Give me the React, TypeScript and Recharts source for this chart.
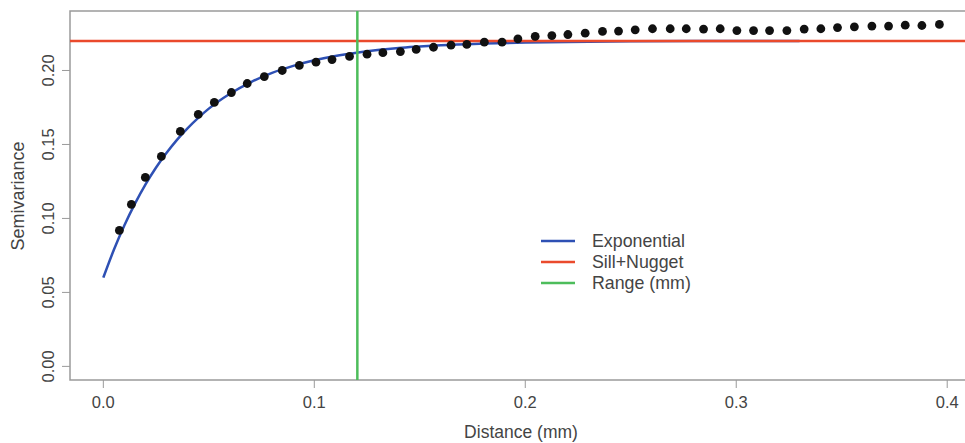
import React from 'react';
import {
  ComposedChart,
  Scatter,
  Line,
  XAxis,
  YAxis,
  ReferenceLine,
  ReferenceArea,
  Customized,
} from 'recharts';

const distances = [
  0.0076, 0.0133, 0.0199, 0.0275, 0.0365, 0.045, 0.0526, 0.0607, 0.0682, 0.0763,
  0.0848, 0.0929, 0.1008, 0.1084, 0.1167, 0.125, 0.1325, 0.1408, 0.1483, 0.1565,
  0.1648, 0.1723, 0.1806, 0.189, 0.1965, 0.2047, 0.2126, 0.2202, 0.2284, 0.2366,
  0.2442, 0.2521, 0.2603, 0.2687, 0.2763, 0.2845, 0.2924, 0.3003, 0.3082, 0.3158,
  0.324, 0.3322, 0.3401, 0.348, 0.356, 0.3643, 0.3722, 0.3801, 0.388, 0.3963,
];
const semivariances = [
  0.0919, 0.1095, 0.1277, 0.1419, 0.1588, 0.1703, 0.1784, 0.1851, 0.1912, 0.1959,
  0.2, 0.2034, 0.2056, 0.2074, 0.2095, 0.211, 0.212, 0.2128, 0.2142, 0.2157,
  0.2171, 0.2176, 0.2191, 0.2191, 0.2214, 0.223, 0.2236, 0.2243, 0.2252, 0.2264,
  0.2266, 0.2275, 0.2282, 0.2282, 0.2282, 0.228, 0.2282, 0.227, 0.227, 0.227,
  0.227, 0.228, 0.2282, 0.229, 0.2295, 0.23, 0.23, 0.2306, 0.2304, 0.2311,
];

// Fitted exponential model curve
const modelDistances = [
  0, 0.005, 0.01, 0.015, 0.02, 0.025, 0.03, 0.035, 0.04, 0.045, 0.05, 0.06, 0.07,
  0.08, 0.09, 0.1, 0.11, 0.12, 0.13, 0.14, 0.15, 0.16, 0.18, 0.2, 0.22, 0.25, 0.28, 0.33,
];
const modelValues = [
  0.06, 0.0788, 0.0954, 0.11, 0.123, 0.1344, 0.1444, 0.1533, 0.1611, 0.168, 0.1742,
  0.1843, 0.1922, 0.1984, 0.2031, 0.2069, 0.2098, 0.212, 0.2138, 0.2152, 0.2162,
  0.2171, 0.2182, 0.2189, 0.2193, 0.2197, 0.2199, 0.22,
];

const sillPlusNugget = 0.22;
const rangeMm = 0.1204;

const xTicks = [0, 0.1, 0.2, 0.3, 0.4];
const yTicks = [0, 0.05, 0.1, 0.15, 0.2];
const xDomain: [number, number] = [-0.0158, 0.4108];
const yDomain: [number, number] = [-0.0092, 0.2402];

const xLabel = 'Distance (mm)';
const yLabel = 'Semivariance';

const BLUE = '#2e50b4';
const RED = '#ea4a2c';
const GREEN = '#4dbd5b';
const AXIS = '#9a9a9a';
const TEXT = '#444444';
const FONT = '"Liberation Sans", Arial, sans-serif';

const legendItems = [
  { label: 'Exponential', color: BLUE },
  { label: 'Sill+Nugget', color: RED },
  { label: 'Range (mm)', color: GREEN },
];

const points = distances.map((x, i) => ({ x, y: semivariances[i] }));
const model = modelDistances.map((x, i) => ({ x, y: modelValues[i] }));

const XTick = (props: any) => {
  const { x, payload } = props;
  return (
    <text x={x} y={402} textAnchor="middle" dominantBaseline="central" fill={TEXT} fontSize={16.5} fontFamily={FONT}>
      {Number(payload.value).toFixed(1)}
    </text>
  );
};

const YTick = (props: any) => {
  const { y, payload } = props;
  return (
    <text
      x={48}
      y={y}
      textAnchor="middle"
      dominantBaseline="central"
      fill={TEXT}
      fontSize={16.5}
      fontFamily={FONT}
      transform={`rotate(-90, 48, ${y})`}
    >
      {Number(payload.value).toFixed(2)}
    </text>
  );
};

const Dot = (props: any) => {
  const { cx, cy } = props;
  if (cx == null || cy == null) return null;
  return <circle cx={cx} cy={cy} r={4.4} fill="#111" />;
};

const Extras = () => (
  <g fontFamily={FONT}>
    <text x={521} y={432} textAnchor="middle" dominantBaseline="central" fill={TEXT} fontSize={17.5}>
      {xLabel}
    </text>
    <text
      x={18}
      y={196}
      textAnchor="middle"
      dominantBaseline="central"
      fill={TEXT}
      fontSize={18}
      transform="rotate(-90, 18, 196)"
    >
      {yLabel}
    </text>
    {legendItems.map((item, i) => (
      <g key={item.label}>
        <line x1={541} x2={575} y1={241 + i * 21} y2={241 + i * 21} stroke={item.color} strokeWidth={2.5} />
        <text x={592} y={241 + i * 21} dominantBaseline="central" fill={TEXT} fontSize={17.8}>
          {item.label}
        </text>
      </g>
    ))}
  </g>
);

export default function App() {
  return (
    <div
      style={{
        position: 'fixed',
        left: 0,
        top: 0,
        width: 965,
        height: 443,
        overflow: 'hidden',
        background: '#fff',
      }}
    >
      <ComposedChart width={975} height={443} margin={{ top: 11, right: 5, bottom: 0, left: 0 }}>
        <XAxis
          dataKey="x"
          type="number"
          domain={xDomain}
          ticks={xTicks}
          allowDataOverflow
          height={63}
          axisLine={false}
          tickLine={{ stroke: AXIS }}
          tickSize={8}
          tick={<XTick />}
          interval={0}
        />
        <YAxis
          dataKey="y"
          type="number"
          domain={yDomain}
          ticks={yTicks}
          allowDataOverflow
          width={70}
          axisLine={false}
          tickLine={{ stroke: AXIS }}
          tickSize={8}
          tick={<YTick />}
          interval={0}
        />
        <ReferenceArea
          x1={xDomain[0]}
          x2={xDomain[1]}
          y1={yDomain[0]}
          y2={yDomain[1]}
          fill="none"
          fillOpacity={0}
          stroke={AXIS}
          strokeWidth={1.5}
        />
        <Scatter data={points} dataKey="y" shape={<Dot />} isAnimationActive={false} />
        <Line
          data={model}
          dataKey="y"
          type="monotone"
          stroke={BLUE}
          strokeWidth={2.5}
          dot={false}
          activeDot={false}
          isAnimationActive={false}
        />
        <ReferenceLine y={sillPlusNugget} stroke={RED} strokeWidth={2.5} />
        <ReferenceLine x={rangeMm} stroke={GREEN} strokeWidth={2.5} />
        <Customized component={Extras} />
      </ComposedChart>
    </div>
  );
}
